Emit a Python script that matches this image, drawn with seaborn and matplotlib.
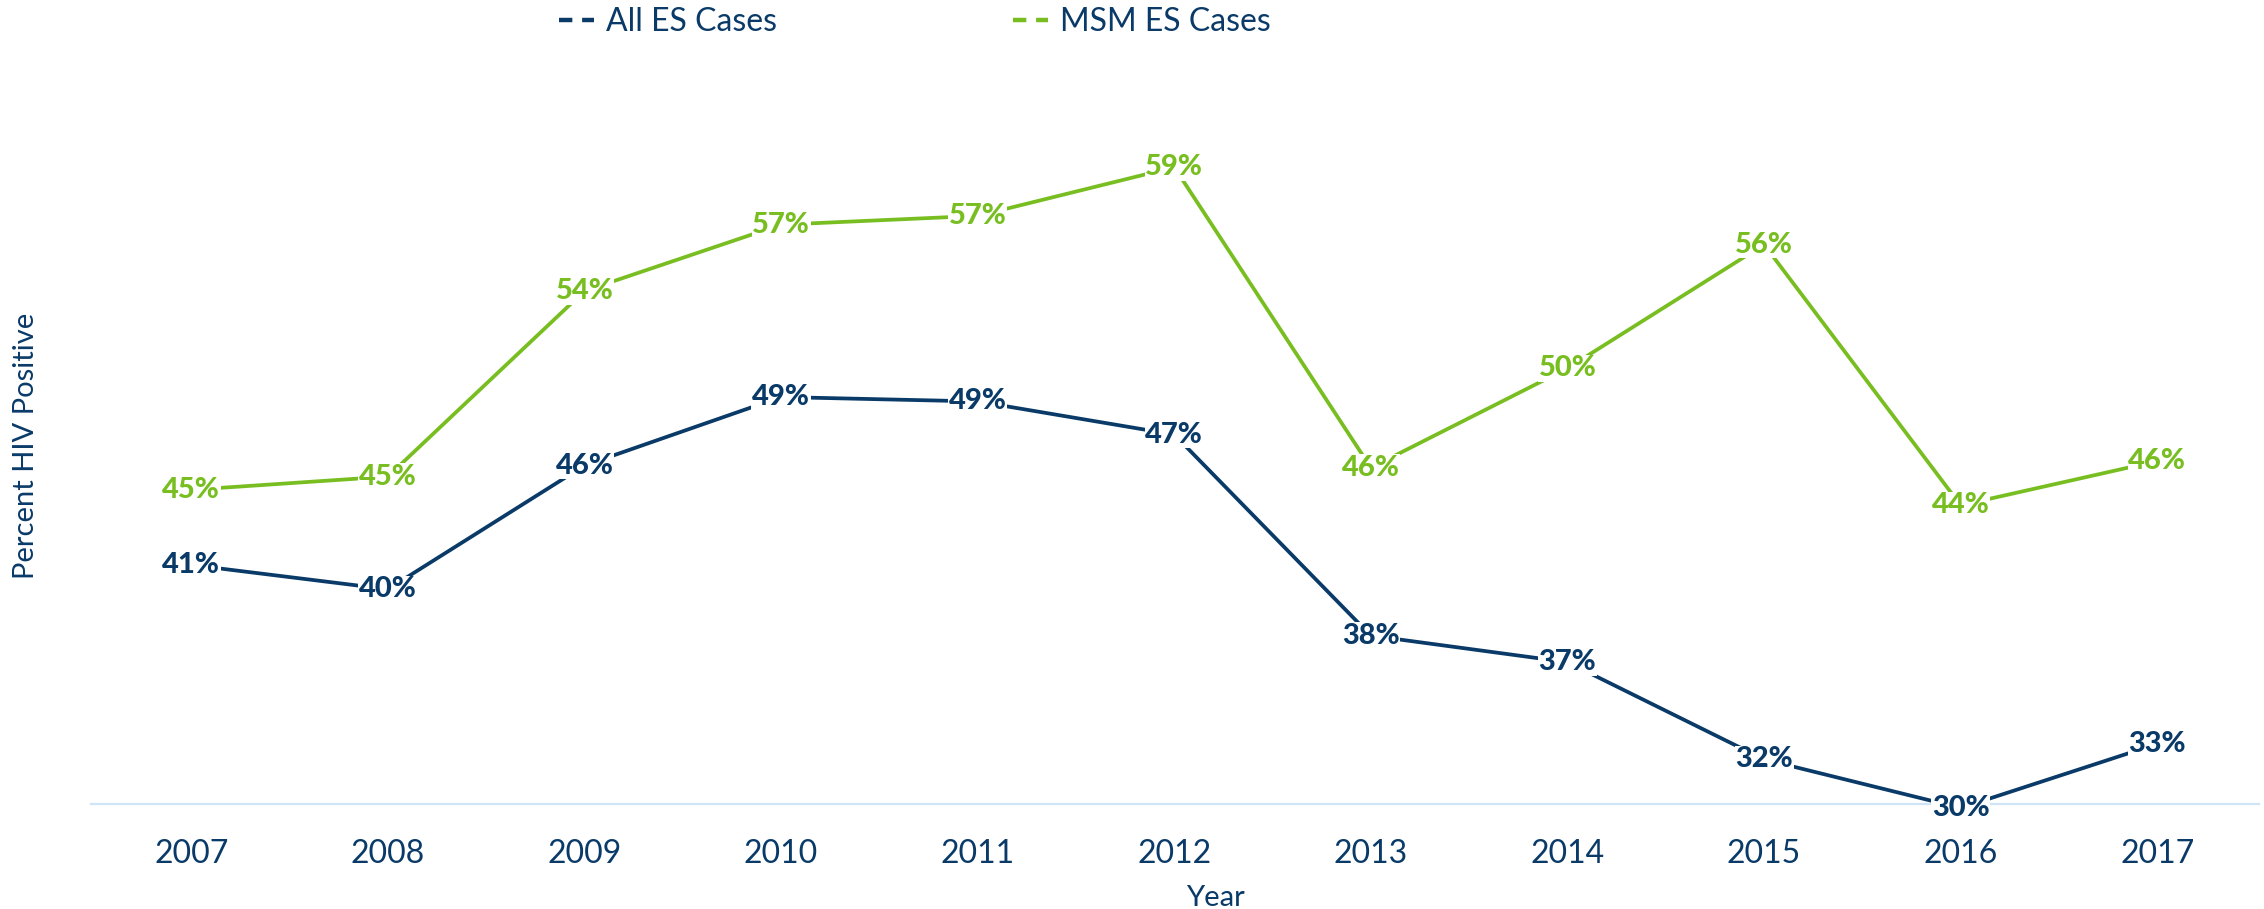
import matplotlib
matplotlib.use("Agg")
import matplotlib.pyplot as plt
from matplotlib.lines import Line2D
import seaborn as sns
import pandas as pd

# Share of early syphilis cases that were HIV positive, by year (percent)
years = [2007, 2008, 2009, 2010, 2011, 2012, 2013, 2014, 2015, 2016, 2017]
all_es = [41.2, 40.1, 45.7, 48.8, 48.6, 47.1, 38.0, 36.8, 32.4, 30.2, 33.1]
msm_es = [44.6, 45.2, 53.6, 56.6, 57.0, 59.2, 45.6, 50.1, 55.7, 43.9, 45.9]
series_names = ["All ES Cases", "MSM ES Cases"]
x_label = "Year"
y_label = "Percent HIV Positive"

NAVY = "#0A3A68"
GREEN = "#78BE21"
AXIS_BLUE = "#CFE4F7"
colors = {series_names[0]: NAVY, series_names[1]: GREEN}

sns.set_theme(style="white")
plt.rcParams["font.family"] = ["Lato", "DejaVu Sans"]

df = pd.DataFrame({
    "Year": years + years,
    "Percent": all_es + msm_es,
    "Series": [series_names[0]] * len(years) + [series_names[1]] * len(years),
})

fig = plt.figure(figsize=(22.64, 9.09), dpi=100)
ax = fig.add_axes([0.0402, 0.1155, 0.9578, 0.7535])

sns.lineplot(data=df, x="Year", y="Percent", hue="Series", palette=colors,
             linewidth=2.7, ax=ax, legend=False, zorder=2)

# value labels centred on each point, knocking out the line beneath them
for name, vals in zip(series_names, [all_es, msm_es]):
    for x, v in zip(years, vals):
        ax.text(x, v, f"{v:.0f}%", ha="center", va="center", fontsize=21,
                fontweight="black", color=colors[name], zorder=4,
                bbox=dict(boxstyle="square,pad=0.02", fc="white", ec="none"))

ax.set_xlim(2006.49, 2017.52)
ax.set_ylim(30.38, 61.38)
ax.set_xticks(years)
ax.set_xticklabels([str(y) for y in years])
ax.set_yticks([])
ax.set_xlabel("")
ax.set_ylabel("")
ax.tick_params(axis="x", length=0, pad=25, labelsize=23, labelcolor=NAVY)
for side in ["left", "right", "top"]:
    ax.spines[side].set_visible(False)
ax.spines["bottom"].set_color(AXIS_BLUE)
ax.spines["bottom"].set_linewidth(1.6)

fig.text(0.0115, 0.51, y_label, rotation=90, ha="center", va="center",
         fontsize=21, color=NAVY)
fig.text(0.537, 0.012, x_label, ha="center", va="center", fontsize=21, color=NAVY)

handles = [Line2D([], [], color=colors[n], lw=3.2, linestyle=(0, (3.0, 2.2)))
           for n in series_names]
fig.legend(handles, series_names, loc="center left", bbox_to_anchor=(559 / 2264, 0.976),
           ncol=2, frameon=False, fontsize=23, handlelength=1.1, handletextpad=0.36,
           columnspacing=7.4, borderpad=0, borderaxespad=0, labelcolor=NAVY)

fig.savefig("out.png", dpi=100, facecolor="white")
